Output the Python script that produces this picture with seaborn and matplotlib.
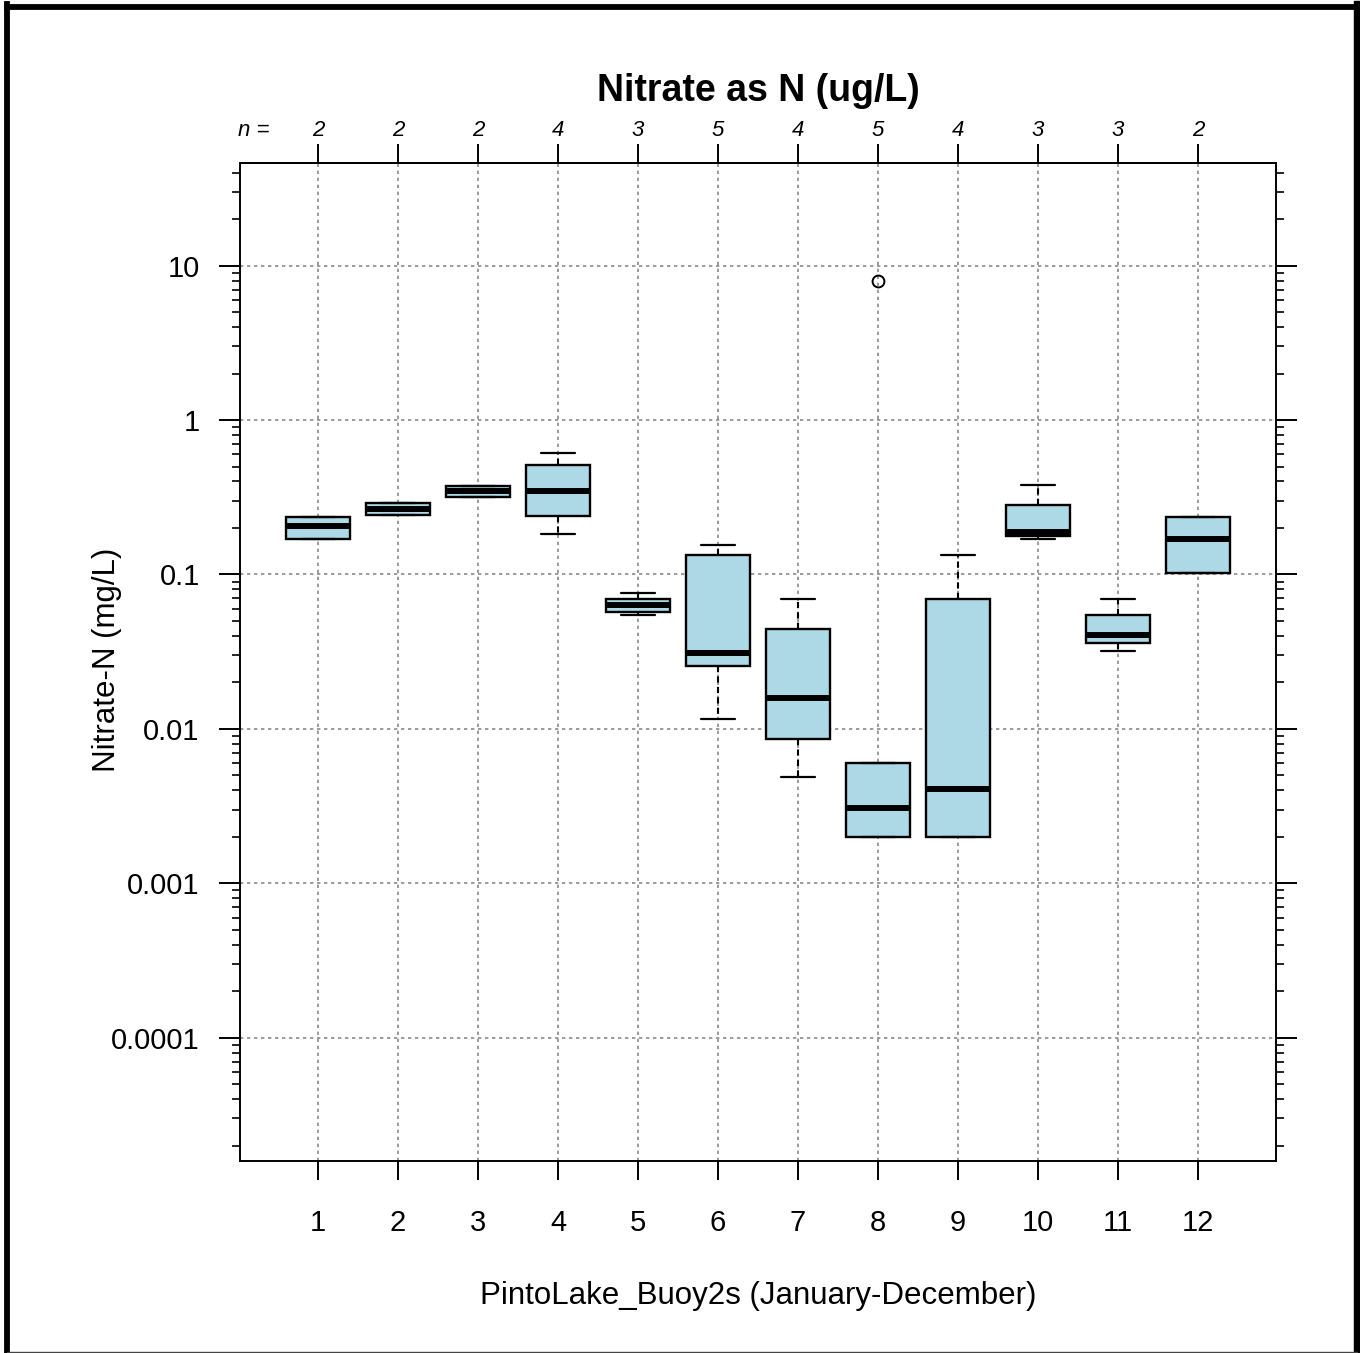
import numpy as np
import matplotlib
matplotlib.use("Agg")
import matplotlib.pyplot as plt
from matplotlib.lines import Line2D
from matplotlib.ticker import FixedLocator, LogLocator, NullFormatter
import matplotlib.transforms as mtransforms
import seaborn as sns

# ---------------- data ----------------
months = [1, 2, 3, 4, 5, 6, 7, 8, 9, 10, 11, 12]
n_obs = [2, 2, 2, 4, 3, 5, 4, 5, 4, 3, 3, 2]
q1_vals = [0.170, 0.243, 0.318, 0.240, 0.0573, 0.0256, 0.0086, 0.0020, 0.0020, 0.178, 0.0360, 0.102]
med_vals = [0.206, 0.265, 0.347, 0.345, 0.0631, 0.0311, 0.0159, 0.00308, 0.00409, 0.188, 0.0406, 0.170]
q3_vals = [0.236, 0.290, 0.374, 0.514, 0.0694, 0.1331, 0.0444, 0.00603, 0.0694, 0.283, 0.0547, 0.236]
whislo_vals = [0.170, 0.243, 0.318, 0.184, 0.0546, 0.0116, 0.00489, 0.0020, 0.0020, 0.169, 0.0320, 0.102]
whishi_vals = [0.236, 0.290, 0.374, 0.609, 0.0755, 0.154, 0.0694, 0.00603, 0.1337, 0.379, 0.0694, 0.236]
fliers = [[], [], [], [], [], [], [], [7.94], [], [], [], []]

ytick_vals = [1e-4, 1e-3, 1e-2, 1e-1, 1, 10]
ytick_labels = ["0.0001", "0.001", "0.01", "0.1", "1", "10"]

title = "Nitrate as N (ug/L)"
xlabel = "PintoLake_Buoy2s (January-December)"
ylabel = "Nitrate-N (mg/L)"

# ---------------- style ----------------
sns.set_theme(style="white")
plt.rcParams["font.family"] = ["Liberation Sans", "DejaVu Sans"]
plt.rcParams["axes.edgecolor"] = "black"
plt.rcParams["xtick.color"] = "black"
plt.rcParams["ytick.color"] = "black"
plt.rcParams["text.color"] = "black"
plt.rcParams["axes.labelcolor"] = "black"

fig = plt.figure(figsize=(13.6, 13.53), dpi=100)
W, H = 1360, 1353
ax = fig.add_axes([240 / W, 1 - 1161 / H, (1276 - 240) / W, (1161 - 163) / H])

stats = []
for m, a, b, c, lo, hi, fl in zip(months, q1_vals, med_vals, q3_vals,
                                    whislo_vals, whishi_vals, fliers):
    stats.append(dict(label=str(m), q1=a, med=b, q3=c, whislo=lo, whishi=hi, fliers=fl))

ax.set_axisbelow(True)
ax.bxp(stats, positions=months, widths=0.8, capwidths=0.42, patch_artist=True,
       showfliers=True,
       boxprops=dict(facecolor="#ADD8E6", edgecolor="black", linewidth=1.7),
       medianprops=dict(color="black", linewidth=4.3, solid_capstyle="butt"),
       whiskerprops=dict(color="black", linewidth=1.5, linestyle=(0, (3, 2))),
       capprops=dict(color="black", linewidth=1.6),
       flierprops=dict(marker="o", markerfacecolor="none", markeredgecolor="black",
                       markersize=8.5, markeredgewidth=1.4))

ax.set_yscale("log")
ax.set_ylim(1.59e-5, 46.2)
ax.set_xlim(0.025, 12.975)

ax.yaxis.set_major_locator(FixedLocator(ytick_vals))
ax.set_yticklabels(ytick_labels)
ax.yaxis.set_minor_locator(LogLocator(base=10, subs=np.arange(2, 10), numticks=30))
ax.yaxis.set_minor_formatter(NullFormatter())

ax.set_xticks(months)
ax.set_xticklabels([str(m) for m in months])

ax.grid(True, which="major", axis="both", color="#8a8a8a", linewidth=1.2,
        linestyle=(0, (2, 2.2)))

for s in ax.spines.values():
    s.set_linewidth(1.4)
    s.set_color("black")
    s.set_visible(True)

ax.tick_params(axis="y", which="major", left=True, right=True, direction="out",
               length=15, width=1.4, labelsize=21, pad=14)
ax.tick_params(axis="y", which="minor", left=True, right=True, direction="out",
               length=6, width=1.2)
ax.tick_params(axis="x", which="major", bottom=True, top=False, direction="out",
               length=13.5, width=1.4, labelsize=21, pad=21)
ax.tick_params(axis="x", which="minor", bottom=False, top=False)

sec = ax.secondary_xaxis("top")
sec.set_xticks(months)
sec.set_xticklabels([str(n) for n in n_obs])
sec.tick_params(axis="x", direction="out", length=14, width=1.4, labelsize=16, pad=1.5)
for lab in sec.get_xticklabels():
    lab.set_fontstyle("italic")
sec.spines["top"].set_linewidth(1.4)

trans = mtransforms.blended_transform_factory(ax.transData, ax.transAxes)
ax.text(0.2, 1.033, "n =", transform=trans, ha="center", va="center",
        fontsize=16, fontstyle="italic")

ax.text(0.5, 1.072, title, transform=ax.transAxes, ha="center", va="center",
        fontsize=27, fontweight="bold")

ax.set_xlabel(xlabel, fontsize=22.5)
ax.xaxis.set_label_coords(0.5, -0.1353)
ax.xaxis.label.set_va("center")
ax.set_ylabel(ylabel, fontsize=22.5)
ax.yaxis.set_label_coords(-0.1284, 0.502)
ax.yaxis.label.set_va("center")

# outer frame of the picture
fig.add_artist(Line2D([6.5 / W, 6.5 / W], [0.0, 1 - 4 / H], transform=fig.transFigure,
                      color="black", linewidth=4.2, solid_capstyle="projecting"))
fig.add_artist(Line2D([6.5 / W, 1356.5 / W], [1 - 6.5 / H, 1 - 6.5 / H], transform=fig.transFigure,
                      color="black", linewidth=4.2, solid_capstyle="projecting"))
fig.add_artist(Line2D([1356.5 / W, 1356.5 / W], [0.0, 1 - 4 / H], transform=fig.transFigure,
                      color="black", linewidth=4.6, solid_capstyle="projecting"))
fig.add_artist(Line2D([6.5 / W, 1356.5 / W], [1.5 / H, 1.5 / H], transform=fig.transFigure,
                      color="#444444", linewidth=1.0))

fig.savefig("out.png", dpi=100, facecolor="white")
